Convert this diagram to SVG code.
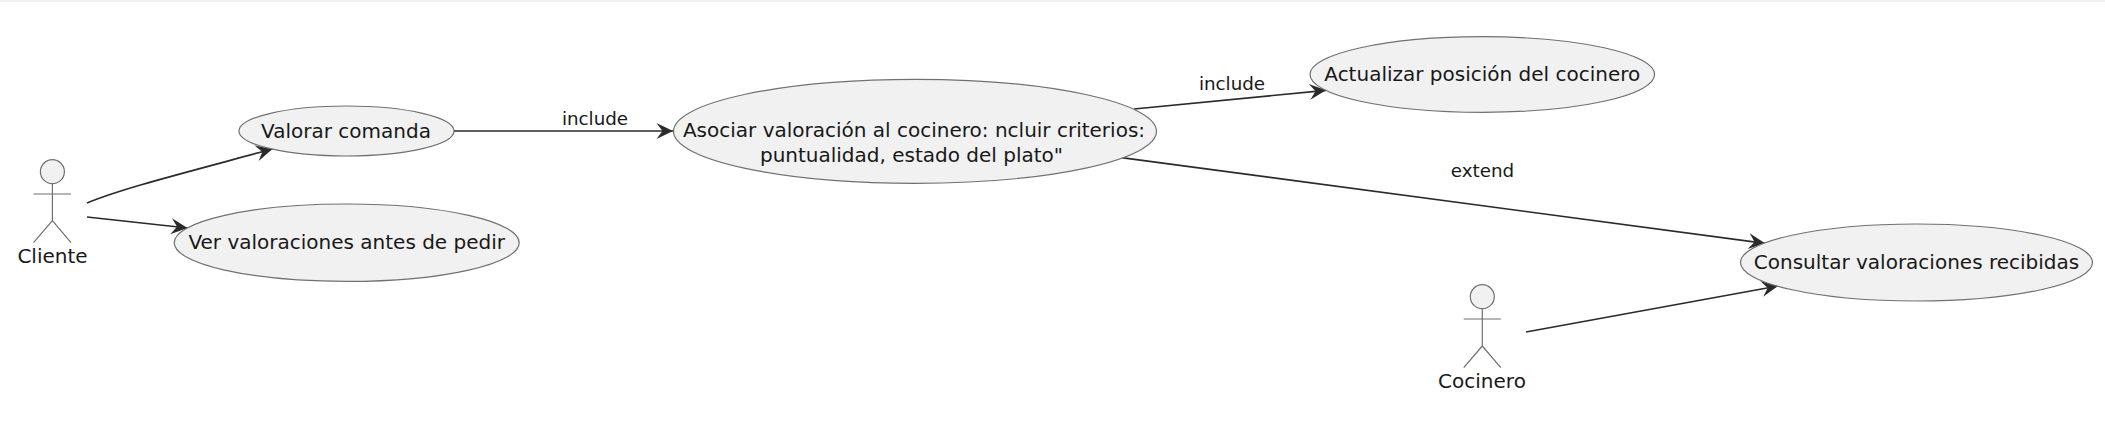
<svg xmlns="http://www.w3.org/2000/svg" width="2105" height="445" viewBox="0 0 2105 445">
<style>
.uc{fill:#F1F1F1;stroke:#707070;stroke-width:1.2}
.a{fill:#F1F1F1;stroke:#707070;stroke-width:1.2}
.l{fill:none;stroke:#707070;stroke-width:1.2}
.e{fill:none;stroke:#2a2a2a;stroke-width:1.7;marker-end:url(#ah)}
text{font-family:"DejaVu Sans",sans-serif;font-size:20px;fill:#181818;text-anchor:middle}
text.el{font-size:18.3px}
</style>
<defs>
<marker id="ah" markerUnits="userSpaceOnUse" markerWidth="22" markerHeight="22" refX="17" refY="10" orient="auto" viewBox="0 0 22 22">
<path d="M17 10L0.5 2L6.5 10L0.5 18Z" fill="#2a2a2a"/>
</marker>
</defs>
<rect x="0" y="0" width="2105" height="445" fill="#fff"/>
<rect x="0" y="0" width="2105" height="2" fill="#f2f2f2"/>
<g id="connectors">
<path class="e" d="M87 203C120 189 180 174 272.5 149"/>
<path class="e" d="M87 217L187.5 228"/>
<path class="e" d="M454 131L673 131"/>
<path class="e" d="M1134 109L1326 90.3"/>
<path class="e" d="M1121.4 157.7L1765 243.3"/>
<path class="e" d="M1526 332L1778 286"/>
<text class="el" x="595" y="125">include</text>
<text class="el" x="1232" y="90">include</text>
<text class="el" x="1482.5" y="176.5">extend</text>
</g>
<g id="cliente">
<circle class="a" cx="52.4" cy="171.7" r="12"/>
<path class="l" d="M52.4 183.7V220.7M33.5 194H71M52.4 220.7L33.5 242.7M52.4 220.7L71 242.7"/>
<text x="52.5" y="263">Cliente</text>
</g>
<g id="cocinero">
<circle class="a" cx="1482.3" cy="296.7" r="12"/>
<path class="l" d="M1482.3 308.7V346M1463.7 319H1500.8M1482.3 346L1463.7 367.7M1482.3 346L1500.8 367.7"/>
<text x="1482" y="388">Cocinero</text>
</g>
<g id="valorar">
<ellipse class="uc" cx="346.5" cy="131" rx="107.5" ry="25"/>
<text x="346" y="137.5">Valorar comanda</text>
</g>
<g id="ver">
<ellipse class="uc" cx="346.7" cy="242.7" rx="172.5" ry="38.7"/>
<text x="346.7" y="249">Ver valoraciones antes de pedir</text>
</g>
<g id="asociar">
<ellipse class="uc" cx="915" cy="131.3" rx="241.5" ry="52"/>
<text x="914" y="137">Asociar valoración al cocinero: ncluir criterios:</text>
<text x="911.5" y="161.5">puntualidad, estado del plato"</text>
</g>
<g id="actualizar">
<ellipse class="uc" cx="1482.3" cy="74.5" rx="172.3" ry="37.8"/>
<text x="1482.3" y="80.5">Actualizar posición del cocinero</text>
</g>
<g id="consultar">
<ellipse class="uc" cx="1916.5" cy="262.5" rx="176" ry="38.5"/>
<text x="1916.5" y="268.5">Consultar valoraciones recibidas</text>
</g>
</svg>
